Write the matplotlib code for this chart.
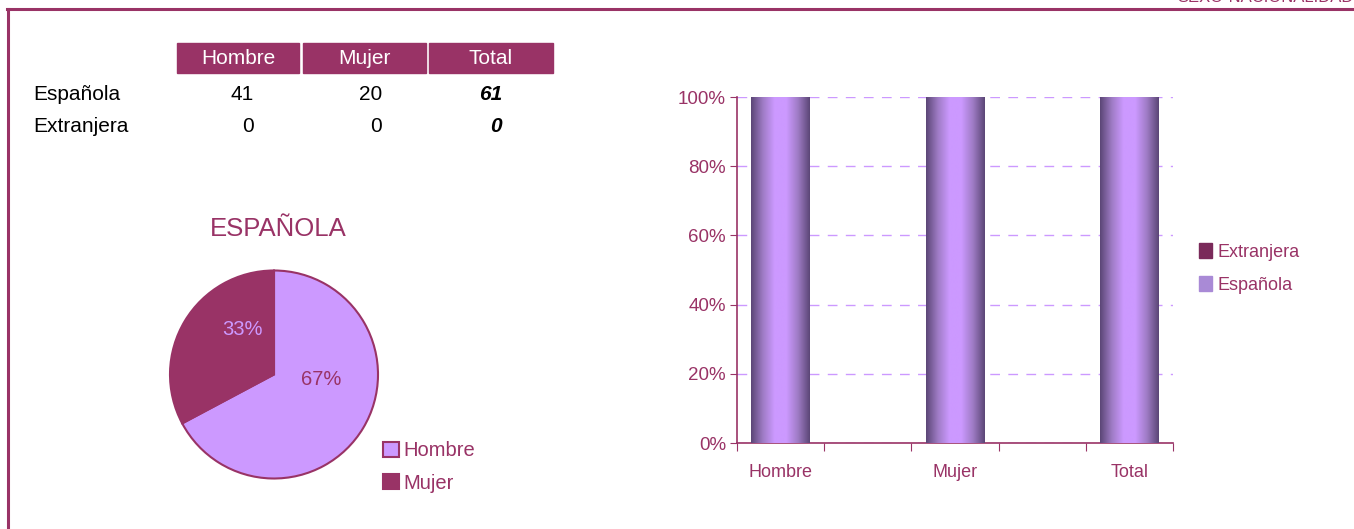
import numpy as np
import matplotlib.pyplot as plt
from matplotlib.patches import Rectangle, Patch
from matplotlib.colors import LinearSegmentedColormap
from matplotlib.lines import Line2D

plt.rcParams['font.family'] = ['Liberation Sans', 'DejaVu Sans']

# datos
columnas = ['Hombre', 'Mujer', 'Total']
espanola = [41, 20, 61]
extranjera = [0, 0, 0]
filas = ['Española', 'Extranjera']
cats_barras = ['Hombre', '', 'Mujer', '', 'Total']

GRANATE = '#993366'
LILA = '#CC99FF'

W, H = 1354, 529
fig = plt.figure(figsize=(W / 100, H / 100), dpi=100)


def px(x, y):
    return x / W, 1 - y / H


# marco de la pagina
fig.add_artist(Line2D([7 / W, 1], [1 - 8.5 / H] * 2, color=GRANATE, lw=2.2))
fig.add_artist(Line2D([7.5 / W] * 2, [0, 1 - 8.5 / H], color=GRANATE, lw=2.2))
fig.text(1.0, 1 - 2 / H, 'SEXO-NACIONALIDAD', ha='right', va='baseline',
         color=GRANATE, fontsize=12)

# tabla
cajas = [(177, 299), (303, 426), (429, 553)]
for (x0, x1), col in zip(cajas, columnas):
    fig.add_artist(Rectangle(px(x0, 73), (x1 - x0) / W, 30 / H,
                             color=GRANATE, transform=fig.transFigure))
    fig.text(*px((x0 + x1) / 2, 58), col, ha='center', va='center',
             color='white', fontsize=15)
der = [254, 382, 502]
for fila, vals, y in zip(filas, [espanola, extranjera], [94, 127]):
    fig.text(*px(33, y), fila, ha='left', va='center', fontsize=15)
    for i, (v, xr) in enumerate(zip(vals, der)):
        estilo = dict(fontweight='bold', fontstyle='italic') if i == 2 else {}
        fig.text(*px(xr, y), str(v), ha='right', va='center', fontsize=15, **estilo)

# tarta
fig.text(*px(278, 229), 'ESPAÑOLA', ha='center', va='center',
         color=GRANATE, fontsize=18.5)
r = 104 * 1.02
axp = fig.add_axes([(274 - r) / W, (H - 374.5 - r) / H, 2 * r / W, 2 * r / H])
cunas, _, pcts = axp.pie(espanola[:2], colors=[LILA, GRANATE], startangle=90,
                         counterclock=False, autopct='%1.0f%%', pctdistance=0.5,
                         wedgeprops=dict(edgecolor=GRANATE, linewidth=1.5))
pcts[0].set_color(GRANATE)
pcts[1].set_color(LILA)
pcts[0].set_position((0.45, -0.05))
pcts[1].set_position((-0.30, 0.43))
for t in pcts:
    t.set_fontsize(14.5)
axp.set_xlim(-1.02, 1.02)
axp.set_ylim(-1.02, 1.02)
axp.legend(cunas, columnas[:2], loc='upper left', bbox_to_anchor=(0.93, 0.27),
           frameon=False, fontsize=14.5, labelcolor=GRANATE, handlelength=0.8,
           handleheight=0.8, handletextpad=0.2, labelspacing=0.65)

# barras apiladas al 100%
tot = np.array(espanola) + np.array(extranjera)
p_esp = np.array(espanola) / tot * 100
p_ext = np.array(extranjera) / tot * 100
pos = [0, 2, 4]

ax = fig.add_axes([737 / W, 1 - 443 / H, 436 / W, 346 / H])
grad = LinearSegmentedColormap.from_list('g', ['#5B4676', '#9E7BC4', LILA, LILA, '#9E7BC4', '#5B4676'])
g = np.linspace(0, 1, 256).reshape(1, -1)
barras = ax.bar(pos, p_esp, width=0.67, color=LILA, zorder=2)
ax.bar(pos, p_ext, bottom=p_esp, width=0.67, color=GRANATE, zorder=2)
for b in barras:
    x0, y0 = b.get_x(), b.get_y()
    im = ax.imshow(g, cmap=grad, aspect='auto', zorder=3,
                   extent=[x0, x0 + b.get_width(), y0, y0 + b.get_height()])
    im.set_clip_path(b)

ax.set_xlim(-0.5, 4.5)
ax.set_ylim(0, 100)
ax.set_xticks(np.arange(-0.5, 5, 1))
ax.set_xticklabels([])
ax.set_xticks(range(5), minor=True)
ax.set_xticklabels(cats_barras, minor=True)
ax.tick_params(axis='x', which='minor', length=0, pad=15, labelsize=13, labelcolor=GRANATE)
ax.tick_params(axis='x', which='major', length=6, color=GRANATE)
ax.set_yticks(range(0, 101, 20))
ax.set_yticklabels([f'{v}%' for v in range(0, 101, 20)])
ax.tick_params(axis='y', length=5, color=GRANATE, labelsize=13.5, labelcolor=GRANATE, pad=3)
ax.yaxis.grid(True, color=LILA, linestyle=(0, (7, 6)), linewidth=1.0, zorder=0)
ax.set_axisbelow(True)
for s in ['top', 'right']:
    ax.spines[s].set_visible(False)
for s in ['left', 'bottom']:
    ax.spines[s].set_color(GRANATE)
    ax.spines[s].set_linewidth(1.2)

ax.legend([Patch(color='#7A2A5A'), Patch(color='#A98AD6')], ['Extranjera', 'Española'],
          loc='center left', bbox_to_anchor=(1.023, 0.505), frameon=False,
          fontsize=13, labelcolor=GRANATE, handlelength=0.7, handleheight=0.9,
          handletextpad=0.3, labelspacing=0.85)

fig.savefig('out.png', dpi=100)
